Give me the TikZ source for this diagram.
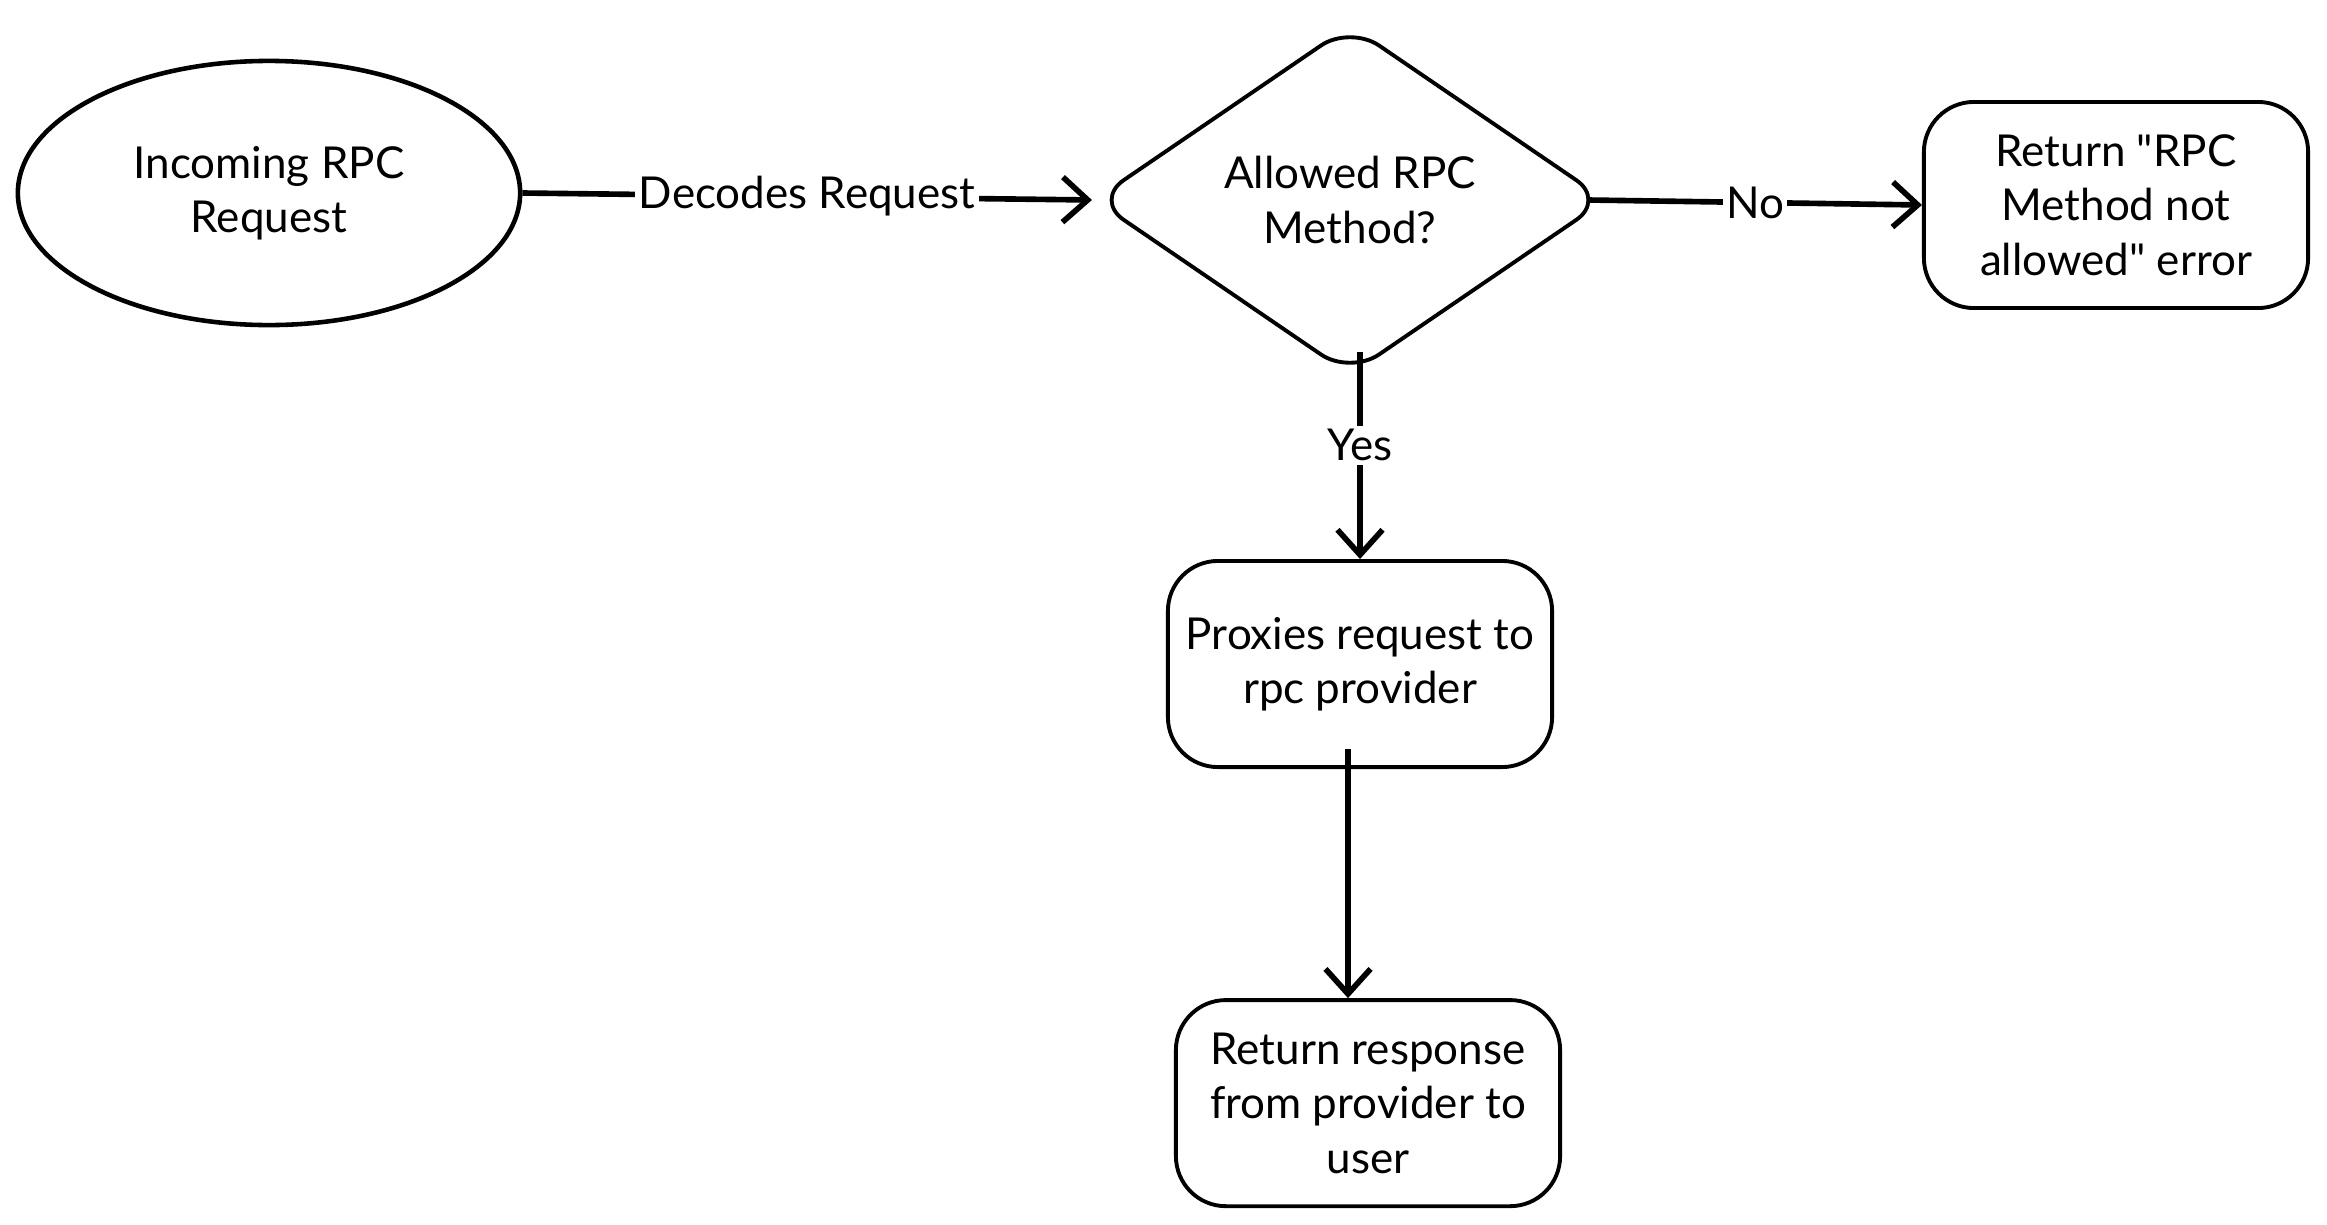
\documentclass[tikz,border=0pt]{standalone}
\usepackage{fontspec}
\setmainfont{Lato}
\usepackage{tikz}
\usetikzlibrary{shapes.geometric,positioning,arrows.meta}

\tikzset{
  flowbox/.style={draw, line width=1.1pt, rounded corners=0.5cm, align=center,
        minimum width=3.84cm, minimum height=2.06cm,
        font=\fontsize{12.5}{15.5}\selectfont},
  flowline/.style={line width=1.6pt, -{Straight Barb[length=0.25cm, width=0.45cm, line width=1.6pt]}},
  flowlabel/.style={fill=white, inner sep=1pt, font=\fontsize{12.5}{15.5}\selectfont}
}

\begin{document}
\begin{tikzpicture}[x=0.01cm, y=-0.01cm]

  \useasboundingbox (0,0) rectangle (2327,1224);

  \node[ellipse, draw, line width=1.3pt, minimum width=5.02cm, minimum height=2.64cm,
        align=center, font=\fontsize{12.5}{15.5}\selectfont] (incoming) at (269,193) {
    Incoming RPC\\Request
  };

  \node[diamond, draw, line width=1.1pt, rounded corners=0.35cm, inner sep=0pt,
        minimum width=5.12cm, minimum height=3.5cm, align=center,
        font=\fontsize{12.5}{15.5}\selectfont] (allowed) at (1350,200) {
    Allowed RPC\\Method?
  };

  \node[flowbox] (notallowed) at (2116,205) {
    Return \textquotedbl RPC\\Method not\\allowed\textquotedbl{} error
  };

  \node[flowbox] (proxies) at (1360,664) {
    Proxies request to\\rpc provider
  };

  \node[flowbox, below = 2.29cm of proxies.south, anchor=north, xshift=0.08cm] (response) {
    Return response\\from provider to\\user
  };

  \draw[flowline] (incoming.east) -- node[flowlabel] {Decodes Request} (allowed.west);
  \draw[flowline] ([xshift=-0.2cm]allowed.east) -- node[flowlabel] {No} (notallowed.west);
  \draw[flowline] ([yshift=0.25cm]allowed.south -| proxies.north) -- node[flowlabel, pos=0.45] {Yes} (proxies.north);
  \draw[flowline] ([xshift=-0.12cm, yshift=0.2cm]proxies.south) -- ([xshift=-0.12cm]proxies.south |- response.north);

\end{tikzpicture}
\end{document}
